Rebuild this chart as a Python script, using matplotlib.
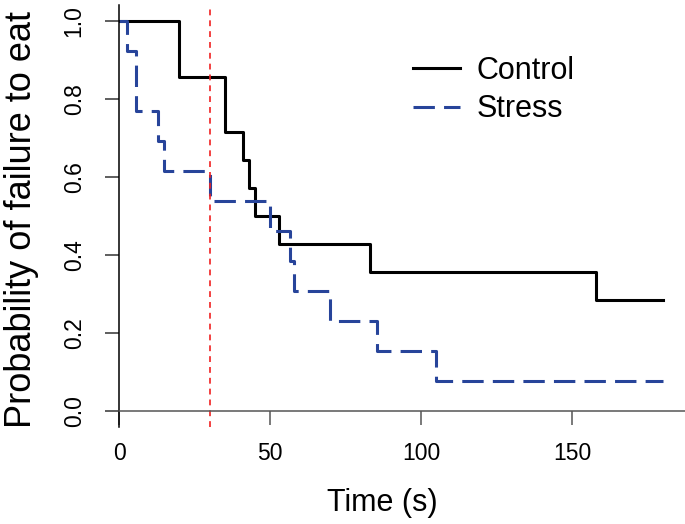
"""Kaplan-Meier style curves: probability of failure to eat, control vs stress."""
import matplotlib.pyplot as plt

plt.rcParams["font.family"] = ["Liberation Sans", "DejaVu Sans"]

# step data
control_times = [0, 20, 35, 41, 43, 45, 53, 83, 158, 180]
control_surv = [1.0, 0.857, 0.714, 0.643, 0.571, 0.500, 0.429, 0.357, 0.286, 0.286]

stress_times = [0, 2.5, 5.5, 13, 15, 30, 50, 56.5, 58, 70, 85.5, 105, 180]
stress_surv = [1.0, 0.923, 0.769, 0.692, 0.615, 0.538, 0.462, 0.385, 0.308,
               0.231, 0.154, 0.077, 0.077]

cutoff_time = 30
x_ticks = [0, 50, 100, 150]
y_ticks = [0.0, 0.2, 0.4, 0.6, 0.8, 1.0]
series_labels = ["Control", "Stress"]

W, H = 685, 524
fig = plt.figure(figsize=(W / 100, H / 100), dpi=100)
ax = fig.add_axes([119 / W, (H - 427) / H, (W - 119) / W, (427 - 5) / H])

ax.step(control_times, control_surv, where="post", color="black", lw=2.2,
        label=series_labels[0])
ax.step(stress_times, stress_surv, where="post", color="#27449A", lw=2.2,
        dashes=(7, 3), label=series_labels[1])
ax.axvline(cutoff_time, color="#F02020", lw=1.2, dashes=(3.5, 3))

ax.set_xlim(0, 187.4)
ax.set_ylim(-0.04, 1.04)

ax.spines["top"].set_visible(False)
ax.spines["right"].set_visible(False)
ax.spines["bottom"].set_position(("data", 0))
ax.spines["bottom"].set_color("#555555")
ax.spines["bottom"].set_linewidth(1.1)
ax.spines["left"].set_linewidth(1.1)

ax.set_xticks(x_ticks)
ax.set_xticklabels([str(t) for t in x_ticks])
ax.set_yticks(y_ticks)
ax.set_yticklabels([f"{t:.1f}" for t in y_ticks], rotation=90, va="center")
ax.tick_params(axis="x", direction="out", length=10, width=1.1,
               color="#555555", labelsize=16.5, pad=12)
ax.tick_params(axis="y", direction="out", length=10, width=1.1,
               color="#333333", labelsize=16.5, pad=14)

fig.text(382 / W, 1 - 503 / H, "Time (s)", fontsize=22, ha="center", va="center")
fig.text(22 / W, 1 - 219 / H, "Probability of failure to eat", fontsize=26,
         rotation=90, ha="center", va="center")

ax.legend(loc="upper left", bbox_to_anchor=(0.471, 0.9445),
          frameon=False, fontsize=22, handlelength=1.54, handletextpad=0.55,
          labelspacing=0.28)

fig.savefig("out.png", dpi=100)
